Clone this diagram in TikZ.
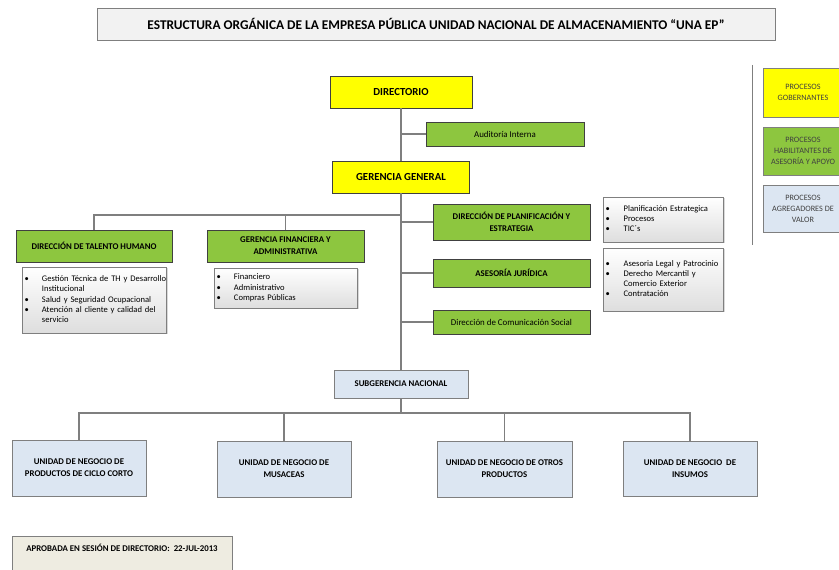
\documentclass[tikz,border=0pt]{standalone}
\usepackage{fontspec}
\setmainfont{Carlito}
\definecolor{unayellow}{HTML}{FFFF00}
\definecolor{unagreen}{HTML}{8DC63F}
\definecolor{unablue}{HTML}{DCE6F2}
\definecolor{unagray}{HTML}{7F7F7F}
\definecolor{unaframe}{HTML}{404040}
\definecolor{unatan}{HTML}{EEECE1}
\usepackage{tikz}
\usetikzlibrary{shadows}

\begin{document}
\begin{tikzpicture}[x=0.3mm, y=-0.3mm,
  box/.style={draw=unaframe, line width=0.7pt, align=center, inner sep=2pt,
              drop shadow={shadow xshift=0.8pt, shadow yshift=-0.8pt, opacity=0.3}},
  gob/.style={box, fill=unayellow, font=\fontsize{9.2}{11}\selectfont\bfseries},
  apoyo/.style={box, fill=unagreen, font=\fontsize{7.5}{10}\selectfont\bfseries},
  apoyotxt/.style={box, fill=unagreen, font=\fontsize{7.6}{10}\selectfont},
  valor/.style={box, draw=unagray, fill=unablue, font=\fontsize{7.5}{10}\selectfont\bfseries},
  lista/.style={box, draw=unagray, top color=white, bottom color=black!13,
                align=left, font=\fontsize{7.3}{8.6}\selectfont},
  leyenda/.style={box, draw=unagray, text=black!75, font=\fontsize{7}{9.4}\selectfont},
  conn/.style={draw=unagray, line width=1.2pt},
]
  \useasboundingbox (0,0) rectangle (839,570);

  \node[box, draw=unagray, fill=black!5, minimum width=203.4mm, minimum height=9.6mm,
        font=\fontsize{11.4}{13}\selectfont\bfseries] (titulo) at (436,24)
    {ESTRUCTURA ORGÁNICA DE LA EMPRESA PÚBLICA UNIDAD NACIONAL DE ALMACENAMIENTO “UNA EP”};

  % procesos gobernantes
  \node[gob, minimum width=42.6mm, minimum height=9.6mm] (dir) at (401,92) {DIRECTORIO};
  \node[gob, minimum width=41.1mm, minimum height=9.6mm] (gg) at (401,177) {GERENCIA GENERAL};
  \node[apoyotxt, minimum width=47.4mm, minimum height=7.2mm] (aud) at (505,134) {Auditoría Interna};

  % procesos de apoyo
  \node[apoyo, minimum width=46.8mm, minimum height=9.6mm] (th) at (94,246)
    {DIRECCIÓN DE TALENTO HUMANO};
  \node[apoyo, minimum width=47.1mm, minimum height=9.6mm] (gf) at (285.5,246)
    {GERENCIA FINANCIERA Y\\ADMINISTRATIVA};
  \node[lista, text width=41.9mm, minimum height=19.8mm] (thlista) at (94.5,300) {%
    \begin{tabular}{@{}p{5.2mm}@{}l@{}}
      \textbullet & Gestión Técnica de TH y Desarrollo\\
                  & Institucional\\
      \textbullet & Salud y Seguridad Ocupacional\\
      \textbullet & Atención al cliente y calidad del\\
                  & servicio
    \end{tabular}};
  \node[lista, text width=41.6mm, minimum height=12mm] (gflista) at (286,288) {%
    \begin{tabular}{@{}p{5.2mm}@{}l@{}}
      \textbullet & Financiero\\
      \textbullet & Administrativo\\
      \textbullet & Compras Públicas
    \end{tabular}};

  \node[apoyo, minimum width=47.1mm, minimum height=10.8mm] (plan) at (511.5,222)
    {DIRECCIÓN DE PLANIFICACIÓN Y\\ESTRATEGIA};
  \node[lista, text width=34.7mm, minimum height=13.5mm] (planlista) at (663.5,219.5) {%
    \begin{tabular}{@{}p{5.4mm}@{}l@{}}
      \textbullet & Planificación Estrategica\\
      \textbullet & Procesos\\
      \textbullet & TIC´s
    \end{tabular}};
  \node[apoyo, minimum width=47.1mm, minimum height=8.4mm] (aj) at (511.5,273)
    {ASESORÍA JURÍDICA};
  \node[lista, text width=34.7mm, minimum height=18.9mm] (ajlista) at (663.5,279.5) {%
    \begin{tabular}{@{}p{5.4mm}@{}l@{}}
      \textbullet & Asesoria Legal y Patrocinio\\
      \textbullet & Derecho Mercantil y\\
                  & Comercio Exterior\\
      \textbullet & Contratación
    \end{tabular}};
  \node[apoyotxt, minimum width=47.1mm, minimum height=7.2mm] (com) at (511.5,322)
    {Dirección de Comunicación Social};

  % procesos agregadores de valor
  \node[valor, minimum width=40.2mm, minimum height=8.4mm] (sub) at (401,384)
    {SUBGERENCIA NACIONAL};
  \node[valor, minimum width=40.2mm, minimum height=16.8mm] (u1) at (79,468)
    {UNIDAD DE NEGOCIO DE\\PRODUCTOS DE CICLO CORTO};
  \node[valor, minimum width=40.2mm, minimum height=16.8mm] (u2) at (284,469)
    {UNIDAD DE NEGOCIO DE\\MUSACEAS};
  \node[valor, minimum width=40.5mm, minimum height=16.8mm] (u3) at (504.5,469)
    {UNIDAD DE NEGOCIO DE OTROS\\PRODUCTOS};
  \node[valor, minimum width=40.2mm, minimum height=16.5mm] (u4) at (690,468.5)
    {UNIDAD DE NEGOCIO\ \ DE\\INSUMOS};

  % conectores
  \coordinate (jl) at (401,215);
  \coordinate (jb) at (401,413);
  \draw[conn] (dir) -- (gg);
  \draw[conn] (gg) -- (sub);
  \draw[conn] (sub) -- (jb);
  \draw[conn] (aud.west) -- (aud.west -| dir.south);
  \draw[conn] (th.north) |- (jl);
  \draw[conn] (gf.north) -- (gf.north |- jl);
  \draw[conn] (plan.west) -- (plan.west -| gg.south);
  \draw[conn] (aj.west) -- (aj.west -| gg.south);
  \draw[conn] (com.west) -- (com.west -| gg.south);
  \draw[conn] (u1.north) |- (jb) -| (u4.north);
  \draw[conn] (u2.north) -- (u2.north |- jb);
  \draw[conn] (u3.north) -- (u3.north |- jb);

  % leyenda
  \coordinate (ley1) at (752,65);
  \coordinate (ley2) at (752,245);
  \draw[unagray, line width=0.8pt] (ley1) -- (ley2);
  \node[leyenda, fill=unayellow, minimum width=24mm, minimum height=14.7mm] (lgob) at (803,92.5)
    {PROCESOS\\GOBERNANTES};
  \node[leyenda, fill=unagreen, minimum width=24mm, minimum height=14.4mm] (lapoyo) at (803,151)
    {PROCESOS\\HABILITANTES DE\\ASESORÍA Y APOYO};
  \node[leyenda, fill=unablue, minimum width=24mm, minimum height=14.1mm] (lvalor) at (803,208.5)
    {PROCESOS\\AGREGADORES DE\\VALOR};

  \node[box, draw=unagray, fill=unatan, minimum width=66mm, inner ysep=1mm,
        text height=3.6mm, text depth=6.4mm, font=\fontsize{7.5}{9}\selectfont\bfseries]
    (aprobada) at (122,556) {APROBADA EN SESIÓN DE DIRECTORIO:\ \ 22-JUL-2013};
\end{tikzpicture}
\end{document}
